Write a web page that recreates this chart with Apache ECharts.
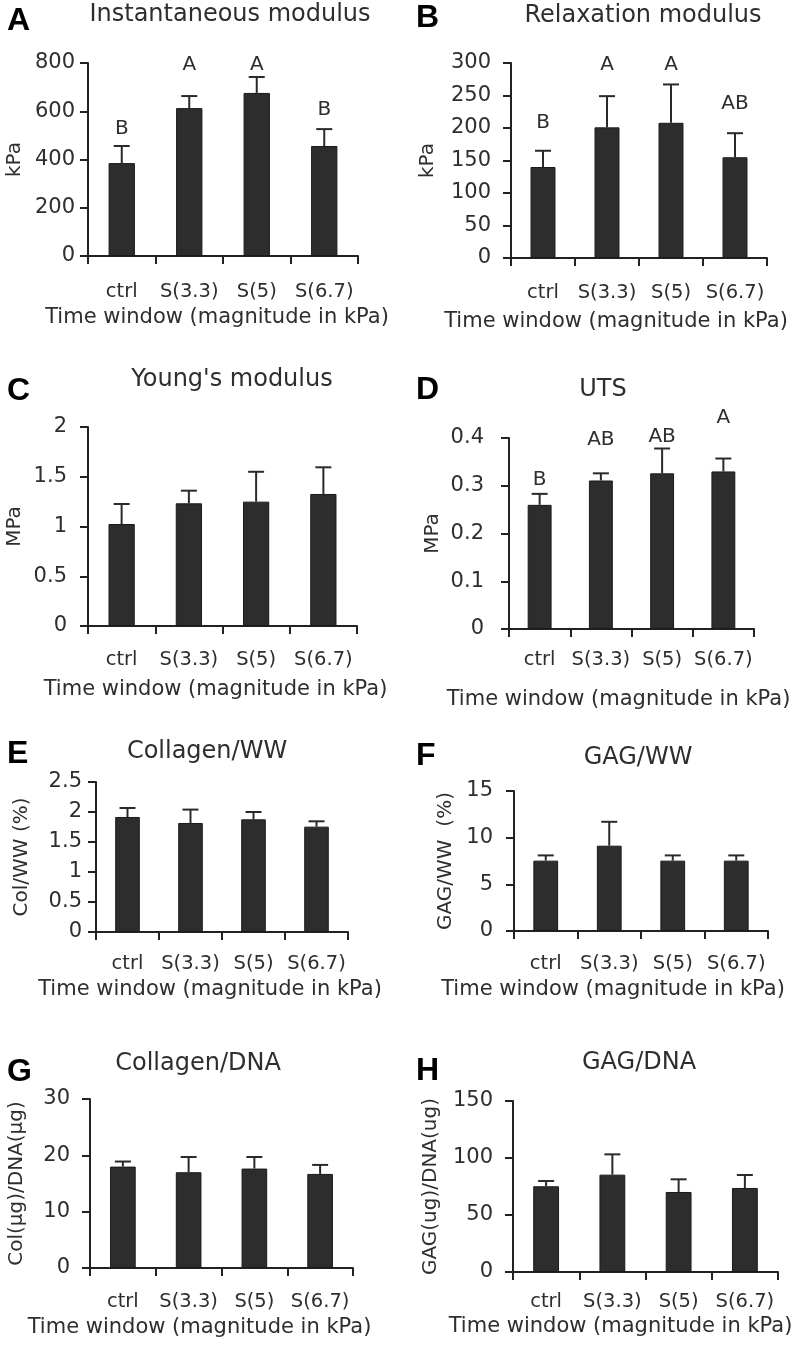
<!DOCTYPE html>
<html><head><meta charset="utf-8">
<script src="https://cdn.jsdelivr.net/npm/echarts@6/dist/echarts.min.js"></script>
<style>html,body{margin:0;padding:0;background:#fff}#c{width:792px;height:1350px}</style>
</head><body><div id="c"></div>
<script>
// ---------- data ----------
const categories = ['ctrl', 'S(3.3)', 'S(5)', 'S(6.7)'];
const xAxisName = 'Time window (magnitude in kPa)';

// A: Instantaneous modulus (kPa)
const instMean = [385, 613, 676, 456];
const instErrTop = [456, 663, 742, 526];
const instLetters = ['B', 'A', 'A', 'B'];
const instLetterY = [529, 792, 792, 608];

// B: Relaxation modulus (kPa)
const relaxMean = [140, 201, 208, 155];
const relaxErrTop = [165, 249, 267, 192];
const relaxLetters = ['B', 'A', 'A', 'AB'];
const relaxLetterY = [208, 297, 297, 238];

// C: Young's modulus (MPa)
const youngMean = [1.025, 1.233, 1.25, 1.327];
const youngErrTop = [1.226, 1.36, 1.55, 1.595];

// D: UTS (MPa)
const utsMean = [0.26, 0.311, 0.326, 0.330];
const utsErrTop = [0.283, 0.326, 0.378, 0.357];
const utsLetters = ['B', 'AB', 'AB', 'A'];
const utsLetterY = [0.312, 0.396, 0.403, 0.443];

// E: Collagen/WW (%)
const colWWMean = [1.917, 1.817, 1.878, 1.756];
const colWWErrTop = [2.067, 2.04, 2.0, 1.845];

// F: GAG/WW (%)
const gagWWMean = [7.54, 9.14, 7.54, 7.54];
const gagWWErrTop = [8.1, 11.7, 8.1, 8.1];

// G: Collagen/DNA
const colDNAMean = [18.0, 17.0, 17.65, 16.7];
const colDNAErrTop = [18.9, 19.7, 19.7, 18.3];

// H: GAG/DNA
const gagDNAMean = [75.2, 85.4, 70.2, 73.7];
const gagDNAErrTop = [79.8, 103.2, 81.3, 85.1];

// ---------- panels ----------
const FONT = '"DejaVu Sans", sans-serif';
const TXT = '#2e2e2e';
const AX = '#222';

const panels = [
  {tag:'A', title:'Instantaneous modulus', yName:'kPa', mean:instMean, err:instErrTop, letters:instLetters, letterY:instLetterY, yMax:800, yInt:200,
   g:{left:88, top:63, width:270, height:193}, yLM:13, yNG:63, xLM:26, xNG:51, xS:-6, t:[230,15], L:[7,21]},
  {tag:'B', title:'Relaxation modulus', yName:'kPa', mean:relaxMean, err:relaxErrTop, letters:relaxLetters, letterY:relaxLetterY, yMax:300, yInt:50,
   g:{left:511, top:63, width:256, height:195}, yLM:20, yNG:73, xLM:25, xNG:53, xS:-23, t:[643,16], L:[416,18]},
  {tag:'C', title:"Young's modulus", yName:'MPa', mean:youngMean, err:youngErrTop, yMax:2, yInt:0.5,
   g:{left:88, top:427, width:269, height:199}, yLM:21, yNG:63, xLM:24, xNG:53, xS:-7, t:[232,380], L:[7,391]},
  {tag:'D', title:'UTS', yName:'MPa', mean:utsMean, err:utsErrTop, letters:utsLetters, letterY:utsLetterY, yMax:0.4, yInt:0.1,
   g:{left:509, top:438, width:245, height:191}, yLM:25, yNG:66, xLM:21, xNG:60, xS:-13, t:[603,390], L:[416,390]},
  {tag:'E', title:'Collagen/WW', yName:'Col/WW (%)', mean:colWWMean, err:colWWErrTop, yMax:2.5, yInt:0.5,
   g:{left:96, top:782, width:252, height:150}, yLM:14, yNG:64, xLM:22, xNG:47, xS:-12, t:[207,752], L:[7,754]},
  {tag:'F', title:'GAG/WW', yName:'GAG/WW  (%)', mean:gagWWMean, err:gagWWErrTop, yMax:15, yInt:5,
   g:{left:514, top:791, width:254, height:140}, yLM:21, yNG:58, xLM:23, xNG:48, xS:-28, t:[638,758], L:[416,756]},
  {tag:'G', title:'Collagen/DNA', yName:'Col(μg)/DNA(μg)', mean:colDNAMean, err:colDNAErrTop, yMax:30, yInt:10,
   g:{left:90, top:1099, width:263, height:169}, yLM:20, yNG:63, xLM:24, xNG:49, xS:-22, t:[198,1064], L:[7,1072]},
  {tag:'H', title:'GAG/DNA', yName:'GAG(ug)/DNA(ug)', mean:gagDNAMean, err:gagDNAErrTop, yMax:150, yInt:50,
   g:{left:513, top:1101, width:265, height:171}, yLM:20, yNG:72, xLM:20, xNG:44, xS:-25, t:[639,1063], L:[416,1071]}
];

function errRender(p) {
  return function (params, api) {
    const i = api.value(0);
    const p0 = api.coord([i, api.value(1)]);
    const p1 = api.coord([i, api.value(2)]);
    const half = 8;
    const st = {stroke: '#2a2a2a', lineWidth: 2};
    const children = [
      {type: 'line', shape: {x1: p0[0], y1: p0[1], x2: p1[0], y2: p1[1]}, style: st},
      {type: 'line', shape: {x1: p1[0] - half, y1: p1[1], x2: p1[0] + half, y2: p1[1]}, style: st}
    ];
    if (p.letters) {
      const pl = api.coord([i, p.letterY[i]]);
      children.push({type: 'text', x: pl[0], y: pl[1],
        style: {text: p.letters[i], align: 'center', verticalAlign: 'middle',
                fontSize: 20, fontFamily: FONT, fill: TXT}});
    }
    return {type: 'group', children: children};
  };
}

const grid = [], xAxis = [], yAxis = [], series = [], graphic = [];
panels.forEach(function (p, k) {
  grid.push(Object.assign({containLabel: false, outerBoundsMode: 'none'}, p.g));
  xAxis.push({
    type: 'category', gridIndex: k, data: categories, boundaryGap: true,
    axisLine: {lineStyle: {color: AX, width: 2}},
    axisTick: {show: true, length: 8, lineStyle: {color: AX, width: 2}},
    axisLabel: {interval: 0, margin: p.xLM, fontSize: 19.5, fontFamily: FONT, color: TXT, hideOverlap: false},
    name: xAxisName, nameLocation: 'middle', nameGap: p.xNG,
    nameTextStyle: {fontSize: 21, fontFamily: FONT, color: TXT, padding: [0, -2 * p.xS, 0, 0]},
    splitLine: {show: false}
  });
  yAxis.push({
    type: 'value', gridIndex: k, min: 0, max: p.yMax, interval: p.yInt,
    axisLine: {show: true, lineStyle: {color: AX, width: 2}},
    axisTick: {show: true, length: 8, lineStyle: {color: AX, width: 2}},
    axisLabel: {margin: p.yLM, fontSize: 21, fontFamily: FONT, color: TXT},
    splitLine: {show: false},
    name: p.yName, nameLocation: 'middle', nameGap: p.yNG, nameRotate: 90,
    nameTextStyle: {fontSize: 20, fontFamily: FONT, color: TXT}
  });
  series.push({
    type: 'bar', xAxisIndex: k, yAxisIndex: k, data: p.mean, barWidth: '39%',
    itemStyle: {color: '#2d2d2d', borderColor: '#1a1a1a', borderWidth: 1},
    silent: true, animation: false, z: 2
  });
  series.push({
    type: 'custom', xAxisIndex: k, yAxisIndex: k, z: 3, animation: false, silent: true,
    data: p.mean.map(function (v, i) { return [i, v, p.err[i]]; }),
    encode: {x: 0, y: [1, 2]},
    renderItem: errRender(p)
  });
  graphic.push({type: 'text', x: p.t[0], y: p.t[1],
    style: {text: p.title, align: 'center', verticalAlign: 'middle', fontSize: 24, fontFamily: FONT, fill: TXT}});
  graphic.push({type: 'text', x: p.L[0], y: p.L[1],
    style: {text: p.tag, align: 'left', verticalAlign: 'middle', fontSize: 32, fontWeight: 'bold',
            fontFamily: '"Liberation Sans", Arial, sans-serif', fill: '#000'}});
});

const chart = echarts.init(document.getElementById('c'), null, {renderer: 'canvas'});
chart.setOption({
  animation: false,
  backgroundColor: '#fff',
  grid: grid, xAxis: xAxis, yAxis: yAxis, series: series, graphic: graphic
});
</script>
</body></html>
